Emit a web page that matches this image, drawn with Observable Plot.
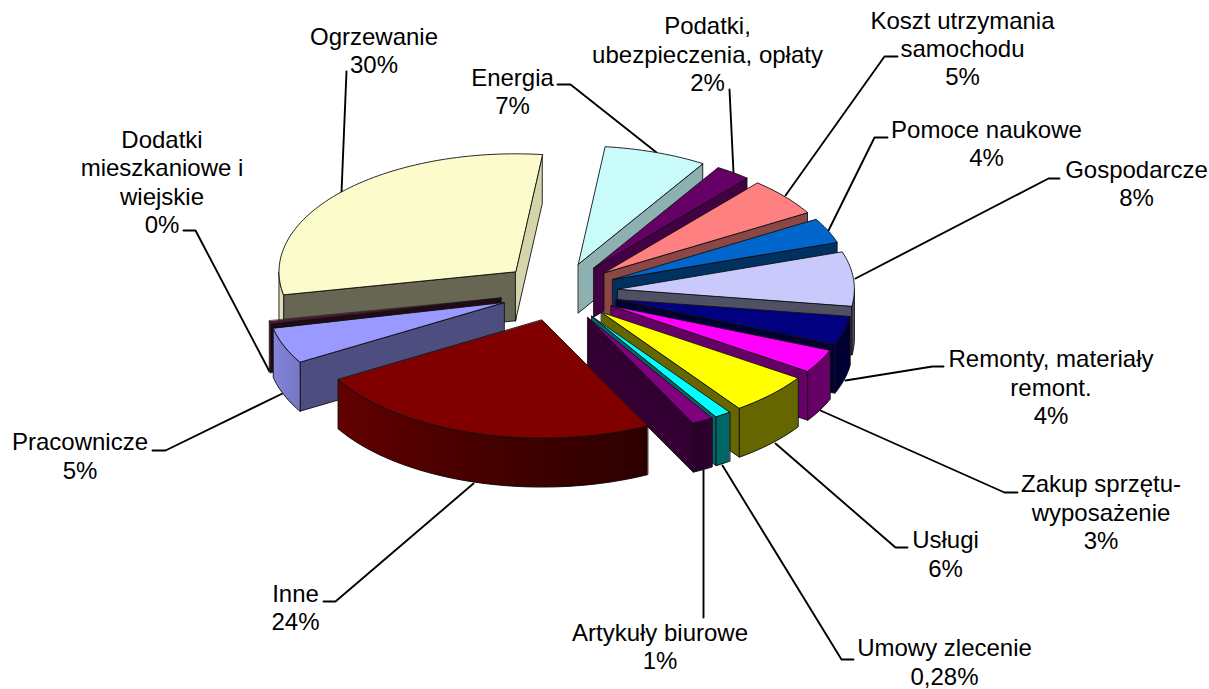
<!DOCTYPE html>
<html>
<head>
<meta charset="utf-8">
<script src="https://cdn.jsdelivr.net/npm/d3@7"></script>
<script src="https://cdn.jsdelivr.net/npm/@observablehq/plot@0.6"></script>
<style>html,body{margin:0;padding:0;background:#fff}svg{display:block}</style>
</head>
<body>
<div id="chart"></div>
<script>
// Slice order runs clockwise starting with Energia
const categories = ["Energia","Podatki, ubezpieczenia, opłaty","Koszt utrzymania samochodu","Pomoce naukowe","Gospodarcze","Remonty, materiały remont.","Zakup sprzętu-wyposażenie","Usługi","Umowy zlecenie","Artykuły biurowe","Inne","Pracownicze","Dodatki mieszkaniowe i wiejskie","Ogrzewanie"];
const drawnShares = [7.0,2.4,5.25,3.4,7.4,3.9,3.2,5.7,1.1,1.45,23.9,4.9,0.4,29.9];
const percentLabels = ["7%","2%","5%","4%","8%","4%","3%","6%","0,28%","1%","24%","5%","0%","30%"];
const labelLines = ["Energia","Podatki,\nubezpieczenia, opłaty","Koszt utrzymania\nsamochodu","Pomoce naukowe","Gospodarcze","Remonty, materiały\nremont.","Zakup sprzętu-\nwyposażenie","Usługi","Umowy zlecenie","Artykuły biurowe","Inne","Pracownicze","Dodatki\nmieszkaniowe i\nwiejskie","Ogrzewanie"];
const palette = ["#C9FBFB","#660066","#FF8080","#0066CC","#C9C9FB","#000080","#FF00FF","#FFFF00","#00FFFF","#800080","#800000","#9999FF","#4C1933","#FBFBCB"];

// Layout of the pie and annotations
const W = 1209, H = 689;
const pie = {cx:558.5, cy:291.3, rx:236.5, ry:118, depth:49, explode:0.25, startDeg:6.5};
const labelAt = [[512,90.5],[707,53],[962,47.5],[986,142.5],[1136,182.5],[1050.5,386],[1100.5,511],[945,553],[944,661],[659.5,645.5],[295,606.5],[79.5,455],[161.5,181],[373.5,49.5]];
const leaders = [
 [[557,84],[570,84],[656,152]],
 [[729,89],[733,172]],
 [[897,56],[884,56],[785,195]],
 [[887,137],[874,137],[828,230]],
 [[1059,178],[1048,178],[855,278]],
 [[943,366],[932,366],[845,380]],
 [[1017,492],[1004,492],[820,410]],
 [[907,547],[895,547],[775,443]],
 [[853,659],[841,659],[722,465]],
 [[703,617],[703,470]],
 [[323,601],[335,601],[473,483]],
 [[152,450],[165,450],[282,393]],
 [[183,230],[195,230],[269,371]],
 [[346,71],[341,192]]
];
const drawOrder = [13,12,11,0,1,2,3,4,5,6,7,8,9,10];

const total = d3.sum(drawnShares);
const rad = d => d * Math.PI / 180;
let acc = pie.startDeg;
const slices = drawnShares.map((v,i) => {
  const a0 = acc, a1 = acc + v / total * 360; acc = a1;
  const mid = (a0 + a1) / 2;
  return {i, a0, a1, ax: pie.cx + pie.explode*pie.rx*Math.sin(rad(mid)), ay: pie.cy - pie.explode*pie.ry*Math.cos(rad(mid))};
});
const rim = (s,a,dz=0) => ({x: s.ax + pie.rx*Math.sin(rad(a)), y: s.ay - pie.ry*Math.cos(rad(a)) + dz});
const arc = (s,a0,a1,dz=0) => { const n = Math.max(1, Math.ceil((a1-a0)/1.5)); return d3.range(n+1).map(k => rim(s, a0+(a1-a0)*k/n, dz)); };
const shade = (c,f) => { const r = d3.rgb(c); return d3.rgb(r.r*f, r.g*f, r.b*f).formatHex(); };
const cutShade = a => { const m = ((a%360)+360)%360;
  if (m <= 180) return m<6?0.85: m>85 ? 0.4 : 0.85 - (m-6)/(85-6)*0.45;
  return 0.5 - (m-240)/(260-240)*0.1; };
const outerShade = a => a <= 150 ? 0.4 : 0.33 + (a-150)/110*0.55;
const polys = [];
const ink = "#111";
for (const idx of drawOrder) {
  const s = slices[idx], col = palette[idx], sw = idx===12?0.6:0.9;
  const A = {x:s.ax,y:s.ay}, Ab = {x:s.ax,y:s.ay+pie.depth};
  const wall = a => [A, rim(s,a), rim(s,a,pie.depth), Ab];
  // start-side cut wall faces the viewer on the far left half, end-side on the right half
  if (Math.sin(rad(s.a0)) < 0) polys.push({pts:wall(s.a0), fill:shade(col,cutShade(s.a0)), stroke:ink, sw});
  if (Math.sin(rad(s.a1)) > 0) polys.push({pts:wall(s.a1), fill:shade(col,cutShade(s.a1)), stroke:ink, sw});
  // outer curved wall: the part on the front half of the rim; pieces overlap so no seams show
  const lo = Math.max(s.a0, 90), hi = Math.min(s.a1, 270);
  if (hi > lo) {
    const n = Math.max(1, Math.ceil((hi-lo)/1.5));
    for (let k=0;k<n;k++) {
      const p = lo+(hi-lo)*k/n, q = lo+(hi-lo)*(k+1)/n, q2 = Math.min(hi, q+1.5), f = shade(col, outerShade((p+q)/2));
      polys.push({pts:[rim(s,p),rim(s,q2),rim(s,q2,pie.depth),rim(s,p,pie.depth)], fill:f, stroke:"none", sw:0});
    }
    polys.push({pts:[...arc(s,lo,hi), ...arc(s,lo,hi,pie.depth).reverse()], fill:"none", stroke:ink, sw});
  }
  // top face
  polys.push({pts:[A, ...arc(s,s.a0,s.a1)], fill:col, stroke:ink, sw});
}

const labelRows = categories.map((c,i) => ({text: labelLines[i] + "\n" + percentLabels[i], x: labelAt[i][0], y: labelAt[i][1]}));

const chart = Plot.plot({
  width: W, height: H,
  margin: 0,
  x: {domain:[0,W], range:[0,W], axis:null},
  y: {domain:[0,H], range:[0,H], axis:null},
  style: {background:"#fff", fontFamily:"'Liberation Sans', Arial, sans-serif"},
  marks: [
    ...leaders.map(l => Plot.line(l, {x:d=>d[0], y:d=>d[1], stroke:"#000", strokeWidth:1.9, strokeLinejoin:"miter"})),
    ...polys.map(p => Plot.line(p.pts, {x:"x", y:"y", fill:p.fill, stroke:p.stroke, strokeWidth:p.sw, curve:"linear-closed", strokeLinejoin:"round"})),
    Plot.text(labelRows, {x:"x", y:"y", text:"text", fontSize:24, lineHeight:1.18, textAnchor:"middle", lineAnchor:"middle", fill:"#000"})
  ]
});
document.getElementById("chart").append(chart);
</script>
</body>
</html>
